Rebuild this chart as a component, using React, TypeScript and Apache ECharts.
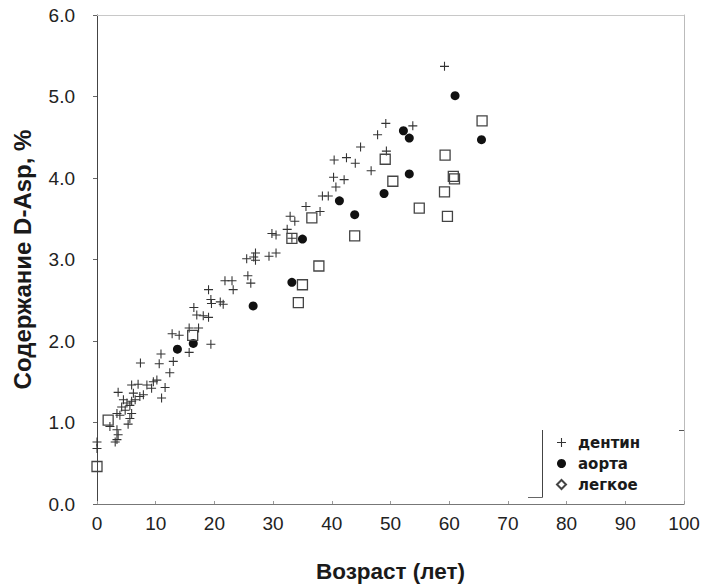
import React, { useEffect, useRef } from "react";
import * as echarts from "echarts";

const xTicks = [0, 10, 20, 30, 40, 50, 60, 70, 80, 90, 100];
const yTicks = [0, 1, 2, 3, 4, 5, 6];

const seriesNames = ["дентин", "аорта", "легкое"];

// [age, D-Asp %]
const dentin: number[][] = [
  [0, 0.76], [0, 0.68], [2.2, 0.95], [3.1, 0.76], [3.4, 0.79], [3.4, 0.91], [3.6, 0.85],
  [3.4, 1.11], [3.9, 1.09], [5.3, 0.98], [4.8, 1.15], [5.6, 1.05], [5.9, 1.11], [4.2, 1.19],
  [5.1, 1.24], [4.5, 1.28], [5.9, 1.26], [5.6, 1.21], [3.6, 1.37], [6.2, 1.36], [6.5, 1.28],
  [7.3, 1.32], [7.9, 1.34], [5.9, 1.46], [7.0, 1.47], [8.5, 1.46], [9.3, 1.42], [9.6, 1.5],
  [10.2, 1.52], [11.6, 1.43], [11.0, 1.3], [7.4, 1.73], [10.6, 1.72], [10.9, 1.84], [13.0, 1.75],
  [12.4, 1.61], [15.7, 1.86], [19.4, 1.96], [12.8, 2.09], [14.0, 2.07], [15.7, 2.16], [17.3, 2.16],
  [16.5, 2.41], [17.0, 2.32], [18.1, 2.31], [19.0, 2.29], [19.4, 2.51], [19.5, 2.46], [21.0, 2.48],
  [21.5, 2.45], [19.0, 2.63], [21.8, 2.74], [23.0, 2.74], [23.2, 2.63], [25.7, 2.8], [26.2, 2.71],
  [25.5, 3.01], [26.7, 3.03], [27.0, 3.08], [27.0, 2.99], [29.3, 3.04], [30.5, 3.08], [29.8, 3.32],
  [30.5, 3.3], [32.4, 3.37], [32.9, 3.53], [33.7, 3.47], [33.2, 3.26], [35.6, 3.65], [38.0, 3.59],
  [38.4, 3.78], [39.4, 3.78], [40.7, 3.89], [40.3, 4.01], [42.1, 3.98], [40.4, 4.22], [42.5, 4.25],
  [44.0, 4.18], [44.9, 4.38], [46.7, 4.09], [47.8, 4.53], [49.2, 4.67], [49.3, 4.33], [53.8, 4.64],
  [59.2, 5.37],
];

const aorta: number[][] = [
  [13.7, 1.9], [16.4, 1.97], [26.6, 2.43], [33.2, 2.72], [35.0, 3.25], [41.3, 3.72], [43.9, 3.55],
  [48.9, 3.81], [52.2, 4.58], [53.2, 4.49], [53.2, 4.05], [61.0, 5.01], [65.5, 4.47],
];

const lung: number[][] = [
  [0, 0.46], [1.9, 1.03], [16.3, 2.07], [33.2, 3.26], [34.3, 2.47], [35.0, 2.69], [36.6, 3.51],
  [37.8, 2.92], [43.9, 3.29], [49.1, 4.23], [50.4, 3.96], [54.9, 3.63], [59.3, 4.28], [59.2, 3.83],
  [59.7, 3.53], [60.7, 4.02], [60.9, 3.99], [65.6, 4.7],
];

const PLUS = "path://M4.4,0H5.6V4.4H10V5.6H5.6V10H4.4V5.6H0V4.4H4.4Z";

export default function App() {
  const ref = useRef<HTMLDivElement>(null);
  useEffect(() => {
    if (!ref.current) return;
    const chart = echarts.init(ref.current, undefined, { renderer: "svg" });
    const font = "'Liberation Sans', Arial, sans-serif";
    chart.setOption({
      animation: false,
      backgroundColor: "#fff",
      grid: { left: 97, right: 28, top: 15, bottom: 83, containLabel: false },
      xAxis: [
        {
          type: "value",
          min: xTicks[0],
          max: xTicks[xTicks.length - 1],
          interval: 10,
          name: "Возраст (лет)",
          nameLocation: "middle",
          nameGap: 56,
          nameTextStyle: { fontFamily: font, fontWeight: "bold", fontSize: 22.5, color: "#1a1a1a" },
          axisLine: { show: true, lineStyle: { color: "#777", width: 1 } },
          axisTick: { show: true, inside: true, length: 3, lineStyle: { color: "#999" } },
          axisLabel: { fontFamily: font, fontSize: 19, color: "#222", margin: 10 },
          splitLine: { show: false },
        },
        {
          type: "value",
          position: "top",
          min: 0,
          max: 100,
          axisLine: { show: true, onZero: false, lineStyle: { color: "#c8c8c8", width: 1 } },
          axisTick: { show: false },
          axisLabel: { show: false },
          splitLine: { show: false },
        },
      ],
      yAxis: [
        {
          type: "value",
          min: yTicks[0],
          max: yTicks[yTicks.length - 1],
          interval: 1,
          name: "Содержание D-Asp, %",
          nameLocation: "middle",
          nameGap: 63,
          nameTextStyle: { fontFamily: font, fontWeight: "bold", fontSize: 24, color: "#1a1a1a" },
          axisLine: { show: true, lineStyle: { color: "#444", width: 1 } },
          axisTick: { show: true, length: 4, lineStyle: { color: "#666" } },
          axisLabel: {
            fontFamily: font,
            fontSize: 19,
            color: "#222",
            margin: 22,
            padding: [8, 0, 0, 0],
            formatter: (v: number) => v.toFixed(1),
          },
          splitLine: { show: false },
        },
        {
          type: "value",
          position: "right",
          min: 0,
          max: 6,
          axisLine: { show: true, onZero: false, lineStyle: { color: "#bbb", width: 1 } },
          axisTick: { show: false },
          axisLabel: { show: false },
          splitLine: { show: false },
        },
      ],
      legend: {
        orient: "vertical",
        left: 551,
        top: 430,
        itemWidth: 9,
        itemHeight: 9,
        itemGap: 6,
        symbolKeepAspect: true,
        textStyle: {
          fontFamily: "'DejaVu Sans', sans-serif",
          fontWeight: "bold",
          fontSize: 15,
          color: "#1a1a1a",
          padding: [0, 0, 0, 7],
        },
        data: [
          { name: seriesNames[0] },
          { name: seriesNames[1] },
          { name: seriesNames[2], icon: "diamond" },
        ],
      },
      graphic: [
        { type: "line", shape: { x1: 542.5, y1: 430, x2: 542.5, y2: 497.5 }, style: { stroke: "#444", lineWidth: 1 } },
        { type: "line", shape: { x1: 528, y1: 497.5, x2: 542.5, y2: 497.5 }, style: { stroke: "#666", lineWidth: 1 } },
        { type: "line", shape: { x1: 684.5, y1: 418, x2: 684.5, y2: 500 }, style: { stroke: "#333", lineWidth: 1 } },
        { type: "line", shape: { x1: 679, y1: 430.5, x2: 684.5, y2: 430.5 }, style: { stroke: "#555", lineWidth: 1 } },
      ],
      series: [
        {
          name: seriesNames[0],
          type: "scatter",
          symbol: PLUS,
          symbolSize: 9,
          itemStyle: { color: "#333", opacity: 1 },
          data: dentin,
          z: 3,
        },
        {
          name: seriesNames[1],
          type: "scatter",
          symbol: "circle",
          symbolSize: 9,
          itemStyle: { color: "#111", opacity: 1 },
          data: aorta,
          z: 4,
        },
        {
          name: seriesNames[2],
          type: "scatter",
          symbol: "rect",
          symbolSize: 10,
          itemStyle: { color: "rgba(255,255,255,0)", borderColor: "#444", borderWidth: 1.3, opacity: 1 },
          data: lung,
          z: 5,
        },
      ],
    });
    return () => chart.dispose();
  }, []);
  return (
    <div
      ref={ref}
      style={{ position: "fixed", left: 0, top: 0, width: 712, height: 588 }}
    />
  );
}
